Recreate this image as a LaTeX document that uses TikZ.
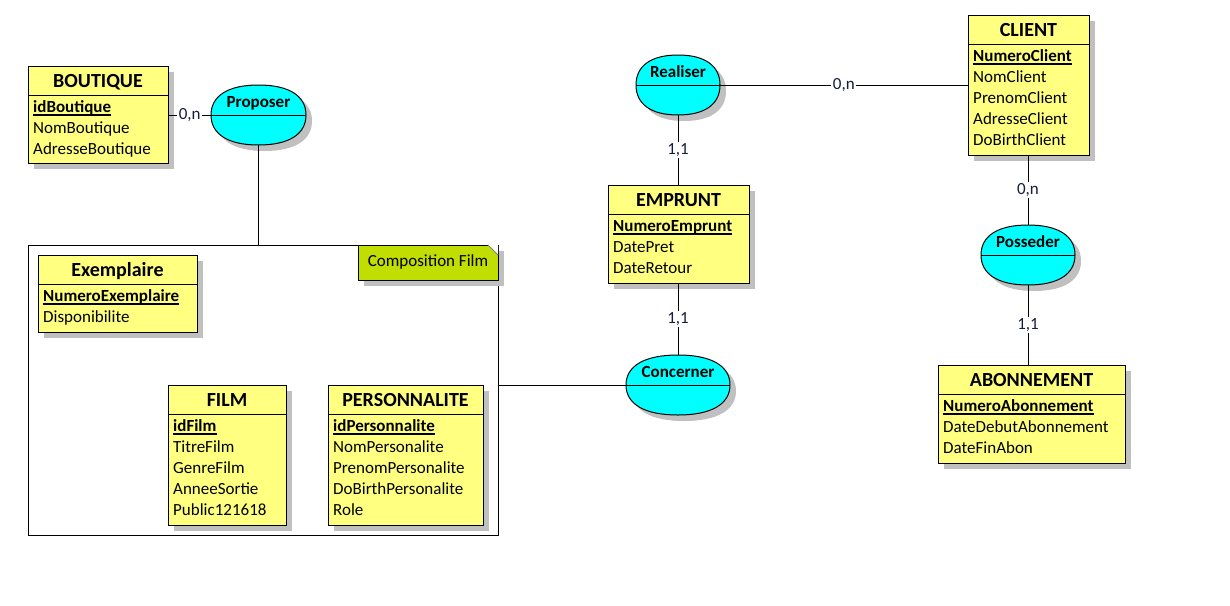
\documentclass[tikz,border=0pt]{standalone}
\usepackage{fontspec}
\setmainfont{Carlito}
\usetikzlibrary{calc}
\definecolor{entfill}{RGB}{255,255,128}
\definecolor{relfill}{RGB}{0,255,255}
\definecolor{notefill}{RGB}{192,222,0}
\definecolor{shadowc}{RGB}{192,192,192}
\definecolor{cardc}{RGB}{20,30,60}
\tikzset{
  ent/.style={draw=black, fill=entfill, line width=1pt, rectangle, inner sep=0pt},
  ttl/.style={inner sep=0pt, anchor=base, font=\fontsize{20}{24}\selectfont\bfseries},
  attr/.style={inner sep=0pt, anchor=base west, font=\fontsize{17}{21}\selectfont},
  keyattr/.style={attr, font=\fontsize{17}{21}\selectfont\bfseries},
  relbox/.style={rectangle, inner sep=0pt},
  rellbl/.style={inner sep=0pt, anchor=base, font=\fontsize{17}{21}\selectfont\bfseries},
  card/.style={fill=white, inner sep=1.5pt, text=cardc, font=\fontsize{17}{21}\selectfont},
  conn/.style={line width=1pt, draw=black},
}
% #1 name, #2 x, #3 y, #4 w, #5 h, #6 title, #7 key, #8 attrs
\newcommand\entity[8]{%
  \fill[shadowc] (#2+6,#3+6) rectangle ++(#4,#5);
  \node[ent, minimum width=#4, minimum height=#5] (#1) at (#2+#4/2,#3+#5/2) {};
  \draw[line width=1pt] (#2,#3+29) -- ++(#4,0);
  \node[ttl] (#1-t) at (#2+#4/2,#3+21) {#6};
  \node[keyattr] (#1-k) at (#2+5,#3+46) {#7};
  \draw[line width=1.3pt] ([yshift=-3pt]#1-k.base west) -- ([yshift=-3pt]#1-k.base east);
  \foreach \a [count=\i] in {#8} {\node[attr] (#1-a\i) at (#2+5,#3+46+21*\i) {\a};}
}
% #1 name, #2 cx, #3 cy, #4 hw, #5 hh, #6 label
\newcommand\relation[6]{%
  \fill[shadowc] (#2-#4+6,#3+6) .. controls (#2-#4+6,#3-0.64*#5+6) and (#2-0.64*#4+6,#3-#5+6) .. (#2+6,#3-#5+6)
    .. controls (#2+0.64*#4+6,#3-#5+6) and (#2+#4+6,#3-0.64*#5+6) .. (#2+#4+6,#3+6)
    .. controls (#2+#4+6,#3+0.64*#5+6) and (#2+0.64*#4+6,#3+#5+6) .. (#2+6,#3+#5+6)
    .. controls (#2-0.64*#4+6,#3+#5+6) and (#2-#4+6,#3+0.64*#5+6) .. (#2-#4+6,#3+6) -- cycle;
  \filldraw[fill=relfill, draw=black, line width=1pt] (#2-#4,#3) .. controls (#2-#4,#3-0.64*#5) and (#2-0.64*#4,#3-#5) .. (#2,#3-#5)
    .. controls (#2+0.64*#4,#3-#5) and (#2+#4,#3-0.64*#5) .. (#2+#4,#3)
    .. controls (#2+#4,#3+0.64*#5) and (#2+0.64*#4,#3+#5) .. (#2,#3+#5)
    .. controls (#2-0.64*#4,#3+#5) and (#2-#4,#3+0.64*#5) .. (#2-#4,#3) -- cycle;
  \node[relbox, minimum width=2*#4, minimum height=2*#5] (#1) at (#2,#3) {};
  \draw[line width=1pt] (#1.west) -- (#1.east);
  \node[rellbl] (#1-l) at (#2,#3-8) {#6};
}
\begin{document}
\begin{tikzpicture}[x=1pt,y=-1pt]
\useasboundingbox[fill=white] (0,0) rectangle (1230,605);

% frame of Composition Film
\node[rectangle, draw=black, line width=1pt, minimum width=470, minimum height=290, inner sep=0pt] (frame) at (263,390) {};

% entities
\entity{boutique}{28}{66}{140}{97}{BOUTIQUE}{idBoutique}{NomBoutique,AdresseBoutique}
\entity{exemplaire}{38}{255}{159}{77}{Exemplaire}{NumeroExemplaire}{Disponibilite}
\entity{film}{168}{385}{118}{140}{FILM}{idFilm}{TitreFilm,GenreFilm,AnneeSortie,Public121618}
\entity{personnalite}{328}{385}{155}{140}{PERSONNALITE}{idPersonnalite}{NomPersonalite,PrenomPersonalite,DoBirthPersonalite,Role}
\entity{emprunt}{608}{185}{141}{98}{EMPRUNT}{NumeroEmprunt}{DatePret,DateRetour}
\entity{client}{968}{15}{121}{140}{CLIENT}{NumeroClient}{NomClient,PrenomClient,AdresseClient,DoBirthClient}
\entity{abonnement}{938}{365}{187}{98}{ABONNEMENT}{NumeroAbonnement}{DateDebutAbonnement,DateFinAbon}

% relations
\relation{proposer}{258.5}{115}{47.5}{30}{Proposer}
\relation{realiser}{678}{85}{42}{30}{Realiser}
\relation{posseder}{1028}{255}{47}{30}{Posseder}
\relation{concerner}{678}{385}{52}{30}{Concerner}

% note Composition Film
\fill[shadowc] (364,251) rectangle (504,286);
\node[rectangle, draw=black, fill=notefill, line width=1pt, minimum width=140, minimum height=35, inner sep=0pt] (compnote) at (428,262.5) {};
\fill[white] (488,245) -- (498,245) -- (498,255) -- cycle;
\draw[line width=0.8pt, draw=gray] (488,245) -- (498,255);
\node[inner sep=0pt, anchor=base, font=\fontsize{17}{21}\selectfont] (compnote-l) at (428,266) {Composition Film};

% connectors
\draw[conn] (boutique.east |- proposer.west) -- node[card] (c1) {0,n} (proposer.west);
\draw[conn] (proposer.south) -- (proposer.south |- frame.north);
\draw[conn] (frame.east |- concerner.west) -- (concerner.west);
\draw[conn] (realiser.east) -- node[card] (c2) {0,n} (client.west |- realiser.east);
\draw[conn] (realiser.south) -- node[card] (c3) {1,1} (realiser.south |- emprunt.north);
\draw[conn] (concerner.north |- emprunt.south) -- node[card] (c4) {1,1} (concerner.north);
\draw[conn] (posseder.north |- client.south) -- node[card] (c5) {0,n} (posseder.north);
\draw[conn] (posseder.south) -- node[card] (c6) {1,1} (posseder.south |- abonnement.north);
\end{tikzpicture}
\end{document}
